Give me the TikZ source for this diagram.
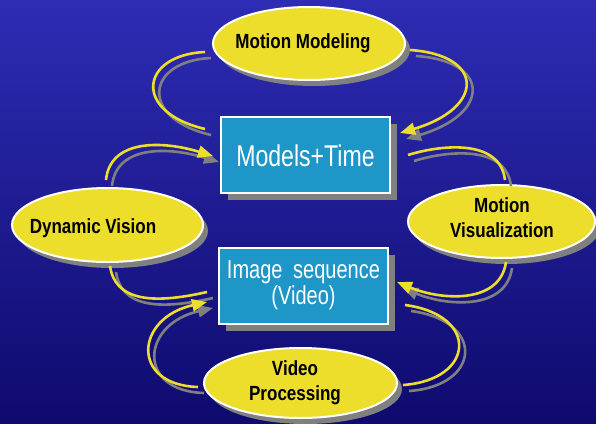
\documentclass[tikz,border=0pt]{standalone}
\usepackage{fontspec}
\setmainfont{Liberation Sans}
\newfontfamily\ellfont[FakeStretch=0.83]{Liberation Sans Bold}
\newfontfamily\boxfont[FakeStretch=0.77]{Liberation Sans}
\usetikzlibrary{shapes.geometric,shadows,arrows.meta}
\definecolor{bgtop}{RGB}{46,44,180}
\definecolor{bgbot}{RGB}{14,10,110}
\definecolor{ellyellow}{RGB}{236,222,42}
\definecolor{boxblue}{RGB}{30,150,200}
\definecolor{shadowgray}{RGB}{128,128,128}
\definecolor{lineyellow}{RGB}{236,222,42}
\tikzset{
  ell/.style={ellipse, fill=ellyellow, draw=white, line width=2pt, inner sep=0pt,
    drop shadow={opacity=1, fill=shadowgray, shadow xshift=5pt, shadow yshift=-6pt}},
  etext/.style={font=\ellfont\fontsize{20.5}{25}\selectfont, text=black, align=center, inner sep=0pt},
  bbox/.style={rectangle, fill=boxblue, draw=white, line width=2pt, minimum width=169pt, minimum height=76pt,
    drop shadow={opacity=1, fill=shadowgray, shadow xshift=7pt, shadow yshift=-7pt}},
  btext/.style={text=white, align=center, inner sep=0pt},
  yline/.style={draw=lineyellow, line width=2.6pt},
  gline/.style={draw=shadowgray, line width=2.6pt},
  arr/.style={-{Triangle[length=15pt,width=12pt]}},
  plain/.style={}
}
\newcommand\twin[2]{%
  \draw[gline,#1,transform canvas={shift={(6pt,-6pt)}}] #2;
  \draw[yline,#1] #2;}
\begin{document}
\begin{tikzpicture}[x=1pt,y=-1pt]
\shade[top color=bgtop, bottom color=bgbot] (0,0) rectangle (596,423);
\useasboundingbox (0,0) rectangle (596,423);

% boxes
\node[bbox] (mt) at (305.5,155) {};
\node[btext, font=\boxfont\fontsize{30}{34}\selectfont] (mtt) at (305.5,156) {Models+Time};
\node[bbox] (is) at (303.5,285.5) {};
\node[btext, font=\boxfont\fontsize{26}{26}\selectfont] (ist) at (303.5,285) {Image\hspace{5pt} sequence\\(Video)};

% ellipses
\node[ell, minimum width=192pt, minimum height=73pt] (mm) at (309,43.5) {};
\node[etext] (mmt) at (303,43) {Motion Modeling};
\node[ell, minimum width=191pt, minimum height=74pt] (dv) at (107.5,225) {};
\node[etext] (dvt) at (93,228) {Dynamic Vision};
\node[ell, minimum width=187pt, minimum height=73pt] (mv) at (501.5,221.5) {};
\node[etext] (mvt) at (502,218) {Motion\\Visualization};
\node[ell, minimum width=193pt, minimum height=70pt] (vp) at (300.5,383) {};
\node[etext] (vpt) at (295,383) {Video\\Processing};

% connector end points
\coordinate (a1s) at (205,52);  \coordinate (a1e) at (205,129);
\coordinate (a2s) at (410,50);  \coordinate (a2e) at (400,133);
\coordinate (a3s) at (106,180); \coordinate (a3e) at (213,156);
\coordinate (a4s) at (408,155); \coordinate (a4e) at (505,180);
\coordinate (a5s) at (110,266); \coordinate (a5e) at (207,292);
\coordinate (a6s) at (506,262); \coordinate (a6e) at (397,282);
\coordinate (a7s) at (198,387); \coordinate (a7e) at (207,302);
\coordinate (a8s) at (405,305); \coordinate (a8e) at (403,385);

\twin{plain}{(a1s) .. controls (140,55) and (132,112) .. (a1e)}
\twin{arr}{(a2s) .. controls (485,55) and (485,108) .. (a2e)}
\twin{arr}{(a3s) .. controls (110,140) and (160,140) .. (a3e)}
\twin{plain}{(a4s) .. controls (440,145) and (500,138) .. (a4e)}
\twin{plain}{(a5s) .. controls (115,300) and (150,305) .. (a5e)}
\twin{arr}{(a6s) .. controls (500,305) and (440,300) .. (a6e)}
\twin{arr}{(a7s) .. controls (130,385) and (135,318) .. (a7e)}
\twin{plain}{(a8s) .. controls (480,315) and (475,380) .. (a8e)}
\end{tikzpicture}
\end{document}
